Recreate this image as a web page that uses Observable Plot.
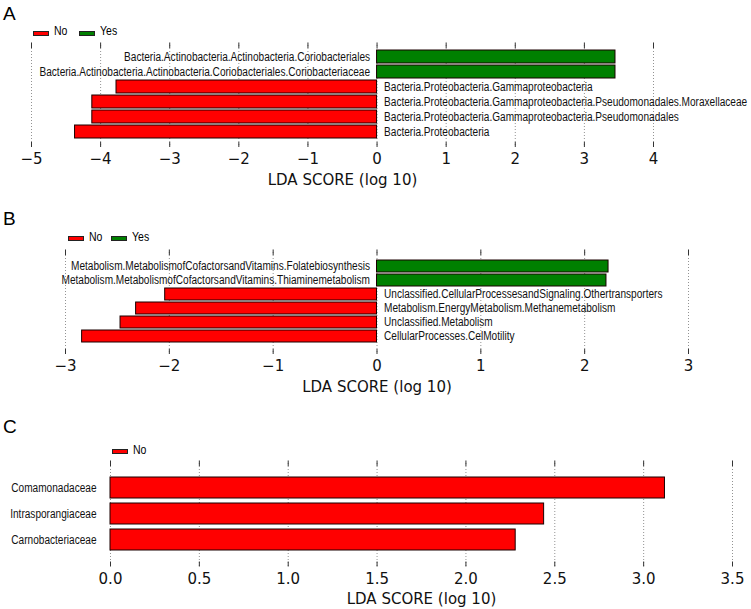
<!DOCTYPE html>
<html><head><meta charset="utf-8">
<script src="https://cdn.jsdelivr.net/npm/d3@7"></script>
<script src="https://cdn.jsdelivr.net/npm/@observablehq/plot@0.6"></script>
<style>
body{margin:0;background:#fff;}
#root{position:relative;width:751px;height:609px;overflow:hidden;background:#fff;}
.panel{position:absolute;left:0;}
.letter{position:absolute;font-family:"Liberation Sans",Arial,sans-serif;font-size:19px;line-height:19px;color:#000;}
.sw{position:absolute;box-sizing:border-box;width:16px;height:5px;border:1px solid #222;}
.lt{position:absolute;font-family:"Liberation Sans",Arial,sans-serif;font-size:12.5px;line-height:12px;color:#000;white-space:nowrap;transform:scaleX(0.84);transform-origin:0 50%;}
</style></head><body><div id="root"></div>
<script>
// ---------- data ----------
const namesA = [
  "Bacteria.Actinobacteria.Actinobacteria.Coriobacteriales",
  "Bacteria.Actinobacteria.Actinobacteria.Coriobacteriales.Coriobacteriaceae",
  "Bacteria.Proteobacteria.Gammaproteobacteria",
  "Bacteria.Proteobacteria.Gammaproteobacteria.Pseudomonadales.Moraxellaceae",
  "Bacteria.Proteobacteria.Gammaproteobacteria.Pseudomonadales",
  "Bacteria.Proteobacteria"
];
const valuesA = [3.45, 3.45, -3.77, -4.12, -4.12, -4.37];
const groupsA = ["Yes", "Yes", "No", "No", "No", "No"];
const ticksA = [-5, -4, -3, -2, -1, 0, 1, 2, 3, 4];

const namesB = [
  "Metabolism.MetabolismofCofactorsandVitamins.Folatebiosynthesis",
  "Metabolism.MetabolismofCofactorsandVitamins.Thiaminemetabolism",
  "Unclassified.CellularProcessesandSignaling.Othertransporters",
  "Metabolism.EnergyMetabolism.Methanemetabolism",
  "Unclassified.Metabolism",
  "CellularProcesses.CelMotility"
];
const valuesB = [2.23, 2.21, -2.04, -2.32, -2.47, -2.84];
const groupsB = ["Yes", "Yes", "No", "No", "No", "No"];
const ticksB = [-3, -2, -1, 0, 1, 2, 3];

const namesC = ["Comamonadaceae", "Intrasporangiaceae", "Carnobacteriaceae"];
const valuesC = [3.12, 2.44, 2.28];
const groupsC = ["No", "No", "No"];
const ticksC = [0, 0.5, 1, 1.5, 2, 2.5, 3, 3.5];

const groupNames = ["No", "Yes"];
const groupColors = ["#ff0000", "#008000"];
const axisTitle = "LDA SCORE (log 10)";
// ---------------------------

const colorOf = g => groupColors[groupNames.indexOf(g)];
const labelFont = "Liberation Sans, Arial, sans-serif";
const squeeze = 0.84;
const root = document.getElementById("root");

function compress(svg, selector, k) {
  svg.querySelectorAll(selector).forEach(t => {
    const L = t.getComputedTextLength();
    if (L > 0) {
      t.setAttribute("textLength", (L * k).toFixed(2));
      t.setAttribute("lengthAdjust", "spacingAndGlyphs");
    }
  });
}

function panel(cfg) {
  const data = cfg.names.map((n, i) => ({name: n, value: cfg.values[i], group: cfg.groups[i]}));
  const marks = [
    Plot.gridX(cfg.ticks, {stroke: "#555", strokeOpacity: 0.8, strokeWidth: 0.8, strokeDasharray: "1,2"}),
    Plot.axisX({anchor: "top", ticks: cfg.ticks, tickSize: -5, tickFormat: () => "", label: null, stroke: "#333"}),
    Plot.axisX({anchor: "bottom", ticks: cfg.ticks, tickSize: -5, tickPadding: 11, tickFormat: cfg.fmt,
      label: axisTitle, labelAnchor: "center", labelArrow: "none", labelOffset: 37,
      fontSize: 15, fontFamily: "DejaVu Sans", fill: "#111", stroke: "#333"}),
    Plot.barX(data, {x: "value", y: "name", fill: d => colorOf(d.group), stroke: "#1a0000", strokeWidth: 1})
  ];
  if (cfg.inline) {
    marks.push(Plot.text(data.filter(d => d.value > 0), {x: () => 0, y: "name", text: "name", textAnchor: "end", dx: -7,
      fontSize: 12, fontFamily: labelFont, fill: "#111"}));
    marks.push(Plot.text(data.filter(d => d.value < 0), {x: () => 0, y: "name", text: "name", textAnchor: "start", dx: 7,
      fontSize: 12, fontFamily: labelFont, fill: "#111"}));
  } else {
    marks.push(Plot.axisY({tickSize: 0, tickPadding: 14, fontSize: 12, fontFamily: labelFont, label: null, fill: "#111"}));
  }
  const svg = Plot.plot({
    width: 751, height: cfg.height,
    marginLeft: cfg.mLeft, marginRight: cfg.mRight, marginTop: cfg.mTop, marginBottom: cfg.mBottom,
    style: {background: "transparent", overflow: "visible"},
    x: {domain: cfg.domain},
    y: {domain: cfg.names, paddingInner: cfg.pi, paddingOuter: cfg.po, axis: null},
    marks
  });
  svg.classList.add("panel");
  svg.style.top = cfg.top + "px";
  root.appendChild(svg);
  compress(svg, 'g[aria-label="text"] text', squeeze);
  compress(svg, 'g[aria-label="y-axis tick label"] text', squeeze);
}

const fmtInt = d => d < 0 ? "\u2212" + Math.abs(d) : String(d);
const fmtDec = d => d.toFixed(1);

panel({names: namesA, values: valuesA, groups: groupsA, ticks: ticksA, fmt: fmtInt, domain: [-5, 4],
  mLeft: 31, mRight: 98, top: 30, height: 165, mTop: 12, mBottom: 48, pi: 0.13, po: 0.54, inline: true});
panel({names: namesB, values: valuesB, groups: groupsB, ticks: ticksB, fmt: fmtInt, domain: [-3, 3],
  mLeft: 65, mRight: 63, top: 240, height: 160, mTop: 9, mBottom: 46, pi: 0.13, po: 0.59, inline: true});
panel({names: namesC, values: valuesC, groups: groupsC, ticks: ticksC, fmt: fmtDec, domain: [0, 3.5],
  mLeft: 110, mRight: 19, top: 445, height: 164, mTop: 15, mBottom: 42.5, pi: 0.2, po: 0.63, inline: false});

function letter(t, top) {
  const d = document.createElement("div");
  d.className = "letter"; d.textContent = t; d.style.left = "3px"; d.style.top = top + "px";
  root.appendChild(d);
}
letter("A", 4); letter("B", 209); letter("C", 417);

function legend(items, baseline) {
  for (const it of items) {
    const s = document.createElement("div");
    s.className = "sw"; s.style.left = it.sx + "px"; s.style.top = (baseline - 4.8) + "px";
    s.style.background = colorOf(it.g);
    root.appendChild(s);
    const t = document.createElement("div");
    t.className = "lt"; t.textContent = it.g; t.style.left = it.tx + "px"; t.style.top = (baseline - 10.4) + "px";
    root.appendChild(t);
  }
}
legend([{g: groupNames[0], sx: 33, tx: 54}, {g: groupNames[1], sx: 79, tx: 100}], 35.3);
legend([{g: groupNames[0], sx: 68, tx: 89}, {g: groupNames[1], sx: 111, tx: 132}], 241);
legend([{g: groupNames[0], sx: 112, tx: 133}], 454);
</script>
</body></html>
